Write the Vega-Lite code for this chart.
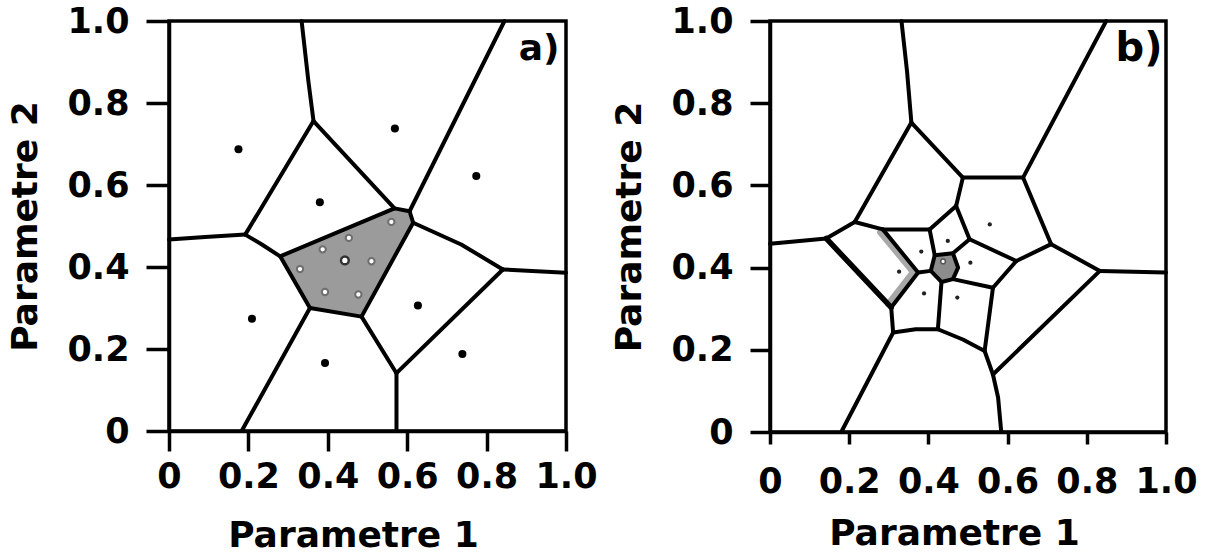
{
  "$schema": "https://vega.github.io/schema/vega-lite/v6.json",
  "background": "white",
  "padding": {"left": 6, "top": 2, "right": 0, "bottom": 0},
  "spacing": 11,
  "config": {
    "font": "DejaVu Sans",
    "view": {"stroke": "black", "strokeWidth": 3.5},
    "axis": {
      "grid": false,
      "domainColor": "black",
      "domainWidth": 3.5,
      "tickColor": "black",
      "tickWidth": 3.5,
      "labelFont": "DejaVu Sans",
      "labelFontWeight": "bold",
      "labelFontSize": 35,
      "labelColor": "black",
      "labelFlush": false,
      "labelOverlap": false,
      "titleFont": "DejaVu Sans",
      "titleFontWeight": "bold",
      "titleFontSize": 36,
      "titleColor": "black"
    }
  },
  "datasets": {
    "edgesA": [
      {"edge": "a1", "i": 0, "x": 0.334, "y": 1.0},
      {"edge": "a1", "i": 1, "x": 0.351, "y": 0.854},
      {"edge": "a1", "i": 2, "x": 0.364, "y": 0.756},
      {"edge": "a2", "i": 0, "x": 0.845, "y": 1.0},
      {"edge": "a2", "i": 1, "x": 0.606, "y": 0.536},
      {"edge": "a3", "i": 0, "x": 0.364, "y": 0.756},
      {"edge": "a3", "i": 1, "x": 0.192, "y": 0.479},
      {"edge": "a4", "i": 0, "x": 0.364, "y": 0.756},
      {"edge": "a4", "i": 1, "x": 0.568, "y": 0.543},
      {"edge": "a5", "i": 0, "x": 0.192, "y": 0.479},
      {"edge": "a5", "i": 1, "x": 0.091, "y": 0.473},
      {"edge": "a5", "i": 2, "x": 0.0, "y": 0.467},
      {"edge": "a6", "i": 0, "x": 0.192, "y": 0.479},
      {"edge": "a6", "i": 1, "x": 0.234, "y": 0.455},
      {"edge": "a6", "i": 2, "x": 0.280, "y": 0.426},
      {"edge": "a7", "i": 0, "x": 0.615, "y": 0.508},
      {"edge": "a7", "i": 1, "x": 0.736, "y": 0.455},
      {"edge": "a7", "i": 2, "x": 0.841, "y": 0.394},
      {"edge": "a8", "i": 0, "x": 0.841, "y": 0.394},
      {"edge": "a8", "i": 1, "x": 1.0, "y": 0.386},
      {"edge": "a9", "i": 0, "x": 0.841, "y": 0.394},
      {"edge": "a9", "i": 1, "x": 0.573, "y": 0.141},
      {"edge": "a10", "i": 0, "x": 0.485, "y": 0.279},
      {"edge": "a10", "i": 1, "x": 0.573, "y": 0.141},
      {"edge": "a11", "i": 0, "x": 0.573, "y": 0.141},
      {"edge": "a11", "i": 1, "x": 0.573, "y": 0.0},
      {"edge": "a12", "i": 0, "x": 0.355, "y": 0.300},
      {"edge": "a12", "i": 1, "x": 0.183, "y": 0.0}
    ],
    "cellA": [
      {"i": 0, "x": 0.280, "y": 0.426},
      {"i": 1, "x": 0.568, "y": 0.543},
      {"i": 2, "x": 0.606, "y": 0.536},
      {"i": 3, "x": 0.615, "y": 0.508},
      {"i": 4, "x": 0.485, "y": 0.279},
      {"i": 5, "x": 0.355, "y": 0.300},
      {"i": 6, "x": 0.280, "y": 0.426}
    ],
    "sitesA": [
      {"x": 0.175, "y": 0.687},
      {"x": 0.380, "y": 0.558},
      {"x": 0.569, "y": 0.738},
      {"x": 0.774, "y": 0.622},
      {"x": 0.209, "y": 0.274},
      {"x": 0.393, "y": 0.166},
      {"x": 0.627, "y": 0.306},
      {"x": 0.739, "y": 0.188}
    ],
    "samplesA": [
      {"x": 0.560, "y": 0.510},
      {"x": 0.453, "y": 0.471},
      {"x": 0.387, "y": 0.443},
      {"x": 0.510, "y": 0.414},
      {"x": 0.330, "y": 0.395},
      {"x": 0.393, "y": 0.339},
      {"x": 0.477, "y": 0.333}
    ],
    "centreA": [{"x": 0.443, "y": 0.416}],
    "labelA": [{"x": 0.932, "y": 0.931, "label": "a)"}],
    "edgesB": [
      {"edge": "b1", "i": 0, "x": 0.332, "y": 1.0},
      {"edge": "b1", "i": 1, "x": 0.346, "y": 0.878},
      {"edge": "b1", "i": 2, "x": 0.357, "y": 0.753},
      {"edge": "b2", "i": 0, "x": 0.849, "y": 1.0},
      {"edge": "b2", "i": 1, "x": 0.639, "y": 0.619},
      {"edge": "b3", "i": 0, "x": 0.357, "y": 0.753},
      {"edge": "b3", "i": 1, "x": 0.214, "y": 0.511},
      {"edge": "b4", "i": 0, "x": 0.357, "y": 0.753},
      {"edge": "b4", "i": 1, "x": 0.487, "y": 0.619},
      {"edge": "b5", "i": 0, "x": 0.487, "y": 0.619},
      {"edge": "b5", "i": 1, "x": 0.639, "y": 0.619},
      {"edge": "b6", "i": 0, "x": 0.487, "y": 0.619},
      {"edge": "b6", "i": 1, "x": 0.470, "y": 0.550},
      {"edge": "b7", "i": 0, "x": 0.470, "y": 0.550},
      {"edge": "b7", "i": 1, "x": 0.403, "y": 0.493},
      {"edge": "b8", "i": 0, "x": 0.470, "y": 0.550},
      {"edge": "b8", "i": 1, "x": 0.504, "y": 0.469},
      {"edge": "b9", "i": 0, "x": 0.504, "y": 0.469},
      {"edge": "b9", "i": 1, "x": 0.622, "y": 0.416},
      {"edge": "b10", "i": 0, "x": 0.622, "y": 0.416},
      {"edge": "b10", "i": 1, "x": 0.710, "y": 0.457},
      {"edge": "b11", "i": 0, "x": 0.639, "y": 0.619},
      {"edge": "b11", "i": 1, "x": 0.710, "y": 0.457},
      {"edge": "b12", "i": 0, "x": 0.710, "y": 0.457},
      {"edge": "b12", "i": 1, "x": 0.833, "y": 0.392},
      {"edge": "b13", "i": 0, "x": 0.833, "y": 0.392},
      {"edge": "b13", "i": 1, "x": 1.0, "y": 0.388},
      {"edge": "b14", "i": 0, "x": 0.833, "y": 0.392},
      {"edge": "b14", "i": 1, "x": 0.563, "y": 0.140},
      {"edge": "b15", "i": 0, "x": 0.622, "y": 0.416},
      {"edge": "b15", "i": 1, "x": 0.563, "y": 0.351},
      {"edge": "b16", "i": 0, "x": 0.563, "y": 0.351},
      {"edge": "b16", "i": 1, "x": 0.542, "y": 0.197},
      {"edge": "b17", "i": 0, "x": 0.542, "y": 0.197},
      {"edge": "b17", "i": 1, "x": 0.563, "y": 0.140},
      {"edge": "b18", "i": 0, "x": 0.563, "y": 0.140},
      {"edge": "b18", "i": 1, "x": 0.576, "y": 0.084},
      {"edge": "b18", "i": 2, "x": 0.584, "y": 0.0},
      {"edge": "b19", "i": 0, "x": 0.424, "y": 0.250},
      {"edge": "b19", "i": 1, "x": 0.487, "y": 0.225},
      {"edge": "b19", "i": 2, "x": 0.542, "y": 0.197},
      {"edge": "b20", "i": 0, "x": 0.424, "y": 0.250},
      {"edge": "b20", "i": 1, "x": 0.433, "y": 0.365},
      {"edge": "b21", "i": 0, "x": 0.462, "y": 0.372},
      {"edge": "b21", "i": 1, "x": 0.563, "y": 0.351},
      {"edge": "b22", "i": 0, "x": 0.406, "y": 0.392},
      {"edge": "b22", "i": 1, "x": 0.374, "y": 0.388},
      {"edge": "b23", "i": 0, "x": 0.416, "y": 0.430},
      {"edge": "b23", "i": 1, "x": 0.403, "y": 0.493},
      {"edge": "b24", "i": 0, "x": 0.462, "y": 0.435},
      {"edge": "b24", "i": 1, "x": 0.504, "y": 0.469},
      {"edge": "b25", "i": 0, "x": 0.403, "y": 0.493},
      {"edge": "b25", "i": 1, "x": 0.285, "y": 0.493},
      {"edge": "b26", "i": 0, "x": 0.285, "y": 0.493},
      {"edge": "b26", "i": 1, "x": 0.214, "y": 0.511},
      {"edge": "b27", "i": 0, "x": 0.214, "y": 0.511},
      {"edge": "b27", "i": 1, "x": 0.142, "y": 0.471},
      {"edge": "b28", "i": 0, "x": 0.142, "y": 0.471},
      {"edge": "b28", "i": 1, "x": 0.075, "y": 0.465},
      {"edge": "b28", "i": 2, "x": 0.0, "y": 0.458},
      {"edge": "b29", "i": 0, "x": 0.285, "y": 0.493},
      {"edge": "b29", "i": 1, "x": 0.374, "y": 0.388},
      {"edge": "b30", "i": 0, "x": 0.374, "y": 0.388},
      {"edge": "b30", "i": 1, "x": 0.306, "y": 0.303},
      {"edge": "b32", "i": 0, "x": 0.306, "y": 0.303},
      {"edge": "b32", "i": 1, "x": 0.311, "y": 0.242},
      {"edge": "b33", "i": 0, "x": 0.311, "y": 0.242},
      {"edge": "b33", "i": 1, "x": 0.368, "y": 0.250},
      {"edge": "b33", "i": 2, "x": 0.424, "y": 0.250},
      {"edge": "b34", "i": 0, "x": 0.311, "y": 0.242},
      {"edge": "b34", "i": 1, "x": 0.180, "y": 0.0}
    ],
    "thickB": [
      {"i": 0, "x": 0.142, "y": 0.471},
      {"i": 1, "x": 0.306, "y": 0.303}
    ],
    "bandB": [
      {"i": 0, "x": 0.278, "y": 0.486},
      {"i": 1, "x": 0.361, "y": 0.389},
      {"i": 2, "x": 0.298, "y": 0.311}
    ],
    "cellB": [
      {"i": 0, "x": 0.416, "y": 0.430},
      {"i": 1, "x": 0.462, "y": 0.435},
      {"i": 2, "x": 0.475, "y": 0.400},
      {"i": 3, "x": 0.462, "y": 0.372},
      {"i": 4, "x": 0.433, "y": 0.365},
      {"i": 5, "x": 0.406, "y": 0.392},
      {"i": 6, "x": 0.416, "y": 0.430}
    ],
    "sitesB": [
      {"x": 0.382, "y": 0.439},
      {"x": 0.449, "y": 0.465},
      {"x": 0.506, "y": 0.412},
      {"x": 0.473, "y": 0.327},
      {"x": 0.389, "y": 0.337},
      {"x": 0.326, "y": 0.390},
      {"x": 0.555, "y": 0.505}
    ],
    "centreB": [{"x": 0.437, "y": 0.415}],
    "labelB": [{"x": 0.932, "y": 0.931, "label": "b)"}]
  },
  "hconcat": [
    {
      "width": 397,
      "height": 410,
      "encoding": {
        "x": {
          "field": "x", "type": "quantitative",
          "scale": {"domain": [0, 1], "nice": false, "zero": false},
          "axis": {
            "title": "Parametre 1",
            "values": [0, 0.2, 0.4, 0.6, 0.8, 1],
            "labelExpr": "datum.value == 0 ? '0' : format(datum.value, '.1f')",
            "tickSize": 20, "labelPadding": 8, "titlePadding": 24, "titleX": 184
          }
        },
        "y": {
          "field": "y", "type": "quantitative",
          "scale": {"domain": [0, 1], "nice": false, "zero": false},
          "axis": {
            "title": "Parametre 2",
            "values": [0, 0.2, 0.4, 0.6, 0.8, 1],
            "labelExpr": "datum.value == 0 ? '0' : format(datum.value, '.1f')",
            "tickSize": 23, "labelPadding": 17, "titlePadding": 22
          }
        }
      },
      "layer": [
        {
          "data": {"name": "cellA"},
          "mark": {"type": "line", "fill": "#9b9b9b", "stroke": "black", "strokeWidth": 4, "strokeJoin": "round"},
          "encoding": {"order": {"field": "i"}}
        },
        {
          "data": {"name": "edgesA"},
          "mark": {"type": "line", "color": "black", "strokeWidth": 4, "strokeCap": "round", "strokeJoin": "round"},
          "encoding": {"detail": {"field": "edge"}, "order": {"field": "i"}}
        },
        {
          "data": {"name": "sitesA"},
          "mark": {"type": "circle", "color": "black", "size": 65, "opacity": 1}
        },
        {
          "data": {"name": "samplesA"},
          "mark": {"type": "point", "shape": "circle", "filled": true, "fill": "white", "stroke": "#6e6e6e", "strokeWidth": 2, "size": 40, "opacity": 1}
        },
        {
          "data": {"name": "centreA"},
          "mark": {"type": "point", "shape": "circle", "filled": true, "fill": "white", "stroke": "#333333", "strokeWidth": 2.5, "size": 60, "opacity": 1}
        },
        {
          "data": {"name": "labelA"},
          "mark": {"type": "text", "font": "DejaVu Sans", "fontWeight": "bold", "fontSize": 36, "color": "black", "align": "center", "baseline": "middle"},
          "encoding": {"text": {"field": "label"}}
        }
      ]
    },
    {
      "width": 396,
      "height": 411,
      "encoding": {
        "x": {
          "field": "x", "type": "quantitative",
          "scale": {"domain": [0, 1], "nice": false, "zero": false},
          "axis": {
            "title": "Parametre 1",
            "values": [0, 0.2, 0.4, 0.6, 0.8, 1],
            "labelExpr": "datum.value == 0 ? '0' : format(datum.value, '.1f')",
            "tickSize": 12, "labelPadding": 20, "titlePadding": 17, "titleX": 184
          }
        },
        "y": {
          "field": "y", "type": "quantitative",
          "scale": {"domain": [0, 1], "nice": false, "zero": false},
          "axis": {
            "title": "Parametre 2",
            "values": [0, 0.2, 0.4, 0.6, 0.8, 1],
            "labelExpr": "datum.value == 0 ? '0' : format(datum.value, '.1f')",
            "tickSize": 20, "labelPadding": 17, "titlePadding": 22
          }
        }
      },
      "layer": [
        {
          "data": {"name": "bandB"},
          "mark": {"type": "line", "color": "#a8a8a8", "strokeWidth": 6, "strokeCap": "round", "strokeJoin": "round"},
          "encoding": {"order": {"field": "i"}}
        },
        {
          "data": {"name": "cellB"},
          "mark": {"type": "line", "fill": "#8c8c8c", "stroke": "black", "strokeWidth": 4, "strokeJoin": "round"},
          "encoding": {"order": {"field": "i"}}
        },
        {
          "data": {"name": "edgesB"},
          "mark": {"type": "line", "color": "black", "strokeWidth": 4, "strokeCap": "round", "strokeJoin": "round"},
          "encoding": {"detail": {"field": "edge"}, "order": {"field": "i"}}
        },
        {
          "data": {"name": "thickB"},
          "mark": {"type": "line", "color": "black", "strokeWidth": 5.5, "strokeCap": "round"},
          "encoding": {"order": {"field": "i"}}
        },
        {
          "data": {"name": "sitesB"},
          "mark": {"type": "circle", "color": "#222222", "size": 18, "opacity": 1}
        },
        {
          "data": {"name": "centreB"},
          "mark": {"type": "point", "shape": "circle", "filled": true, "fill": "white", "stroke": "#555555", "strokeWidth": 1.5, "size": 22, "opacity": 1}
        },
        {
          "data": {"name": "labelB"},
          "mark": {"type": "text", "font": "DejaVu Sans", "fontWeight": "bold", "fontSize": 40, "color": "black", "align": "center", "baseline": "middle"},
          "encoding": {"text": {"field": "label"}}
        }
      ]
    }
  ]
}
